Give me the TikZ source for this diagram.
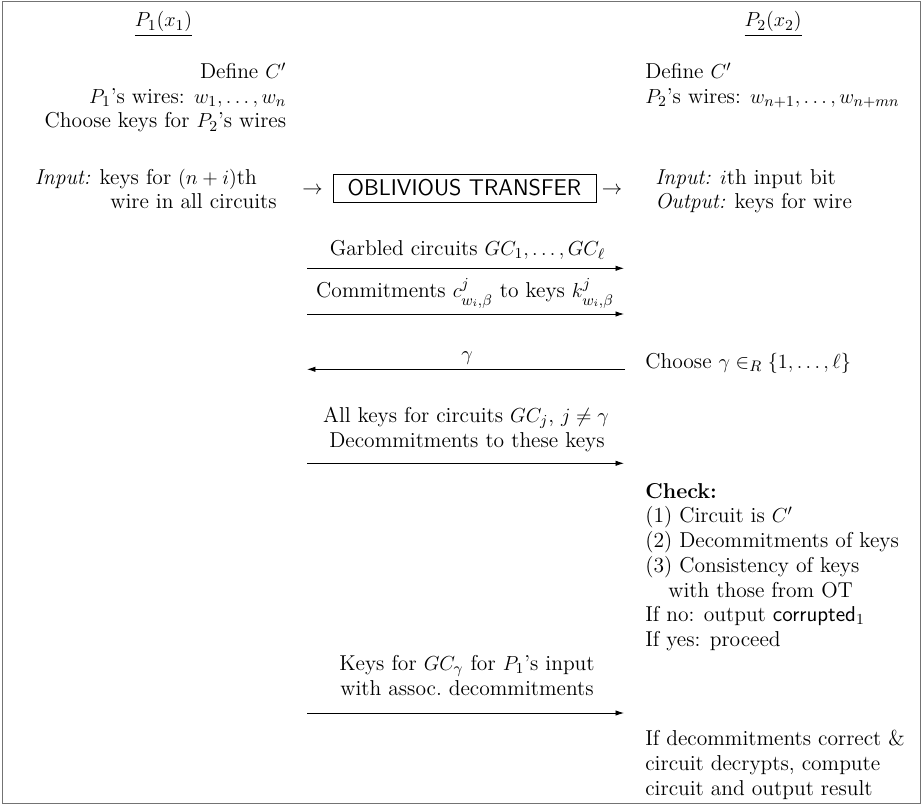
\documentclass[tikz,border=0pt,12pt]{standalone}
\usepackage{amsmath,amssymb}
\usetikzlibrary{arrows.meta}
\begin{document}
\begin{tikzpicture}[x=0.59pt,y=-0.59pt,
  txt/.style={inner sep=0pt, font=\fontsize{12.7}{15}\selectfont},
  lft/.style={txt, anchor=base west},
  rgt/.style={txt, anchor=base east},
  ctr/.style={txt, anchor=base},
  msg/.style={-{Latex[length=5pt,width=3.2pt]}, line width=0.5pt},
  frame/.style={draw=black!55, line width=0.9pt},
  otbox/.style={draw, line width=0.5pt, inner sep=0pt, font=\fontsize{13.4}{16}\selectfont\sffamily, minimum width=155.2pt, minimum height=16.5pt}
]
\useasboundingbox (0,0) rectangle (923,805);
\draw[frame] (2.5,1.5) rectangle (920.5,803.5);

% headers
\node[ctr] (p1) at (163.5,27) {\underline{$P_1(x_1)$}};
\node[ctr] (p2) at (773,27) {\underline{$P_2(x_2)$}};

% left setup
\node[rgt] (l1) at (286.5,79) {Define $C'$};
\node[rgt] (l2) at (286.5,103.5) {$P_1$'s wires: $w_1,\ldots,w_n$};
\node[rgt] (l3) at (286.5,128) {Choose keys for $P_2$'s wires};

% right setup
\node[lft] (r1) at (645,79) {Define $C'$};
\node[lft] (r2) at (645,103.5) {$P_2$'s wires: $w_{n+1},\ldots,w_{n+mn}$};

% OT row
\node[lft] (li1) at (34.5,185) {\emph{Input:} keys for $(n+i)$th};
\node[lft] (li2) at (110,209) {wire in all circuits};
\node[ctr] (ota) at (312.5,195) {$\rightarrow$};
\node[otbox] (ot) at (464.5,188) {OBLIVIOUS TRANSFER\hspace{4pt}};
\node[ctr] (otb) at (612,195) {$\rightarrow$};
\node[lft] (ri1) at (655,185) {\emph{Input:} $i$th input bit};
\node[lft] (ri2) at (655,209) {\emph{Output:} keys for wire};

% message 1
\node[ctr] (m1) at (467.5,255.5) {Garbled circuits $GC_1,\ldots,GC_\ell$};
\coordinate (a1s) at (307,268.3);
\coordinate (a1e) at (624,268.3);
\draw[msg] (a1s) -- (a1e);

% message 2
\node[ctr] (m2) at (465,298) {Commitments $c^j_{w_i,\beta}$ to keys $k^j_{w_i,\beta}$};
\coordinate (a2s) at (307,314);
\coordinate (a2e) at (624,314);
\draw[msg] (a2s) -- (a2e);

% gamma
\node[ctr] (m3) at (467,360) {$\gamma$};
\coordinate (a3s) at (625,369.3);
\coordinate (a3e) at (307,369.3);
\draw[msg] (a3s) -- (a3e);
\node[lft] (r3) at (645,368.5) {Choose $\gamma\in_R\{1,\ldots,\ell\}$};

% message 4
\node[ctr] (m4) at (466,422) {All keys for circuits $GC_j$, $j\neq\gamma$};
\node[ctr] (m5) at (467,447) {Decommitments to these keys};
\coordinate (a4s) at (307,463.3);
\coordinate (a4e) at (624,463.3);
\draw[msg] (a4s) -- (a4e);

% check block
\node[lft] (c0) at (645,498) {\textbf{Check:}};
\node[lft] (c1) at (645,522.5) {(1) Circuit is $C'$};
\node[lft] (c2) at (645,547) {(2) Decommitments of keys};
\node[lft] (c3) at (645,572) {(3) Consistency of keys};
\node[lft] (c4) at (668,597) {with those from OT};
\node[lft] (c5) at (645,621.5) {If no: output \textsf{corrupted}$_1$};
\node[lft] (c6) at (645,646) {If yes: proceed};

% message 5
\node[ctr] (m6) at (467,670) {Keys for $GC_\gamma$ for $P_1$'s input};
\node[ctr] (m7) at (467,695.5) {with assoc.\ decommitments};
\coordinate (a5s) at (307,713);
\coordinate (a5e) at (624,713);
\draw[msg] (a5s) -- (a5e);

% final
\node[lft] (f1) at (645,745) {If decommitments correct \&};
\node[lft] (f2) at (645,770) {circuit decrypts, compute};
\node[lft] (f3) at (645,795) {circuit and output result};
\end{tikzpicture}
\end{document}
